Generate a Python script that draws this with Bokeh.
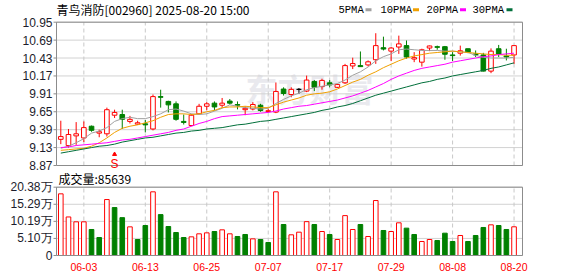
from bokeh.plotting import figure
from bokeh.models import ColumnDataSource, Range1d
from bokeh.embed import file_html
from bokeh.resources import INLINE
from bokeh.core.properties import value

# ---------------- data ----------------
dates = ["05-28", "05-29", "05-30", "06-03", "06-04", "06-05", "06-06", "06-09", "06-10", "06-11",
         "06-12", "06-13", "06-16", "06-17", "06-18", "06-19", "06-20", "06-23", "06-24", "06-25",
         "06-26", "06-27", "06-30", "07-01", "07-02", "07-03", "07-04", "07-07", "07-08", "07-09",
         "07-10", "07-11", "07-14", "07-15", "07-16", "07-17", "07-18", "07-21", "07-22", "07-23",
         "07-24", "07-25", "07-28", "07-29", "07-30", "07-31", "08-01", "08-04", "08-05", "08-06",
         "08-07", "08-08", "08-11", "08-12", "08-13", "08-14", "08-15", "08-18", "08-19", "08-20"]

open_ = [9.25, 9.16, 9.30, 9.27, 9.44, 9.34, 9.33, 9.60, 9.61, 9.51,
         9.47, 9.475, 9.40, 9.87, 9.80, 9.765, 9.51, 9.45, 9.62, 9.73,
         9.775, 9.745, 9.805, 9.755, 9.68, 9.69, 9.745, 9.655, 9.645, 9.98,
         9.90, 9.975, 9.95, 10.09, 10.015, 10.07, 10.005, 10.07, 10.315, 10.32,
         10.33, 10.405, 10.58, 10.53, 10.59, 10.61, 10.415, 10.37, 10.575, 10.595,
         10.595, 10.475, 10.50, 10.565, 10.49, 10.475, 10.24, 10.565, 10.46, 10.475]
high = [9.52, 9.40, 9.50, 9.51, 9.45, 9.39, 9.71, 9.68, 9.68, 9.59,
        9.52, 9.53, 9.90, 9.97, 9.81, 9.80, 9.61, 9.62, 9.765, 9.79,
        9.80, 9.85, 9.835, 9.80, 9.73, 9.79, 9.765, 9.69, 10.075, 10.005,
        10.005, 9.995, 10.175, 10.11, 10.13, 10.11, 10.055, 10.345, 10.435, 10.525,
        10.395, 10.79, 10.74, 10.59, 10.755, 10.685, 10.515, 10.565, 10.61, 10.61,
        10.605, 10.515, 10.61, 10.565, 10.54, 10.505, 10.57, 10.62, 10.565, 10.61]
low = [9.18, 9.13, 9.17, 9.21, 9.36, 9.28, 9.29, 9.56, 9.40, 9.48,
       9.46, 9.35, 9.38, 9.71, 9.64, 9.52, 9.465, 9.44, 9.61, 9.67,
       9.67, 9.71, 9.755, 9.685, 9.60, 9.67, 9.65, 9.64, 9.63, 9.885,
       9.86, 9.91, 9.935, 9.95, 9.97, 10.005, 9.995, 10.055, 10.27, 10.30,
       10.31, 10.345, 10.54, 10.385, 10.49, 10.42, 10.37, 10.305, 10.53, 10.55,
       10.405, 10.385, 10.465, 10.50, 10.445, 10.235, 10.21, 10.445, 10.395, 10.345]
close = [9.29, 9.32, 9.33, 9.42, 9.38, 9.36, 9.68, 9.64, 9.54, 9.54,
         9.49, 9.46, 9.87, 9.86, 9.75, 9.54, 9.495, 9.60, 9.73, 9.765,
         9.72, 9.775, 9.775, 9.745, 9.70, 9.755, 9.668, 9.665, 9.945, 9.915,
         9.975, 9.975, 10.11, 10.005, 10.105, 10.04, 10.045, 10.32, 10.35, 10.305,
         10.375, 10.61, 10.56, 10.575, 10.635, 10.445, 10.435, 10.55, 10.605, 10.585,
         10.485, 10.465, 10.535, 10.515, 10.475, 10.24, 10.53, 10.485, 10.445, 10.61]
volume = [184000, 115000, 100500, 100500, 77600, 53700, 167000, 143000, 113000, 85500,
          47700, 89500, 190000, 122000, 86500, 68600, 53700, 55700, 64700, 67600,
          71600, 76600, 64700, 56700, 62700, 49700, 47700, 38800, 190000, 92500,
          61700, 69600, 101000, 92500, 71600, 62700, 47700, 119000, 77600, 92500,
          56700, 164000, 74600, 71600, 97500, 81600, 62700, 41800, 47700, 44800,
          66600, 41800, 59700, 41800, 59700, 83600, 91500, 89500, 77600, 85639]
ma5 = [9.12, 9.15, 9.20, 9.26, 9.34, 9.37, 9.42, 9.51, 9.55, 9.57,
       9.55, 9.55, 9.58, 9.62, 9.68, 9.69, 9.66, 9.62, 9.61, 9.62,
       9.66, 9.70, 9.75, 9.73, 9.71, 9.70, 9.69, 9.70, 9.77, 9.83,
       9.88, 9.92, 9.97, 10.00, 10.02, 10.04, 10.06, 10.11, 10.18, 10.23,
       10.30, 10.39, 10.45, 10.49, 10.55, 10.56, 10.55, 10.54, 10.54, 10.54,
       10.53, 10.53, 10.52, 10.51, 10.47, 10.44, 10.43, 10.43, 10.43, 10.44]
ma10 = [9.09, 9.10, 9.11, 9.12, 9.15, 9.20, 9.27, 9.35, 9.41, 9.44,
        9.46, 9.49, 9.52, 9.57, 9.61, 9.62, 9.62, 9.61, 9.62, 9.65,
        9.67, 9.71, 9.72, 9.72, 9.73, 9.72, 9.71, 9.71, 9.75, 9.79,
        9.82, 9.85, 9.89, 9.91, 9.92, 9.94, 9.98, 10.03, 10.08, 10.12,
        10.18, 10.23, 10.29, 10.34, 10.39, 10.43, 10.46, 10.48, 10.50, 10.51,
        10.52, 10.53, 10.52, 10.51, 10.50, 10.49, 10.48, 10.48, 10.47, 10.47]
ma20 = [9.13, 9.14, 9.16, 9.17, 9.18, 9.19, 9.20, 9.22, 9.24, 9.25,
        9.27, 9.29, 9.31, 9.33, 9.35, 9.38, 9.40, 9.44, 9.48, 9.51,
        9.55, 9.58, 9.59, 9.60, 9.61, 9.62, 9.63, 9.64, 9.66, 9.69,
        9.71, 9.73, 9.74, 9.76, 9.78, 9.80, 9.82, 9.85, 9.88, 9.92,
        9.96, 10.01, 10.06, 10.12, 10.17, 10.21, 10.25, 10.28, 10.30, 10.32,
        10.34, 10.37, 10.39, 10.41, 10.43, 10.45, 10.46, 10.48, 10.49, 10.50]
ma30 = [9.05, 9.07, 9.09, 9.11, 9.13, 9.15, 9.16, 9.18, 9.21, 9.23,
        9.25, 9.27, 9.28, 9.30, 9.32, 9.34, 9.35, 9.37, 9.38, 9.40,
        9.41, 9.42, 9.44, 9.46, 9.47, 9.49, 9.51, 9.52, 9.54, 9.56,
        9.58, 9.60, 9.62, 9.64, 9.67, 9.69, 9.72, 9.74, 9.77, 9.81,
        9.85, 9.89, 9.92, 9.95, 9.98, 10.01, 10.04, 10.07, 10.09, 10.12,
        10.14, 10.17, 10.19, 10.21, 10.23, 10.25, 10.28, 10.30, 10.33, 10.36]

tick_dates = ["06-03", "06-13", "06-25", "07-07", "07-17", "07-29", "08-08", "08-20"]
price_ticks = [8.87, 9.13, 9.39, 9.65, 9.91, 10.17, 10.43, 10.69, 10.95]
vol_ticks = [0, 50950, 101900, 152850, 203800]
vol_tick_labels = ["0", "5.10万", "10.19万", "15.29万", "20.38万"]
title_text = "青鸟消防[002960] 2025-08-20 15:00"
vol_title = "成交量:85639"
signal_date = "06-09"
ma_names = ["5PMA", "10PMA", "20PMA", "30PMA"]

# ---------------- styling / geometry ----------------
RED = "#FF0000"
GREEN = "#008000"
MA_COLORS = ["#A0A0A0", "#F0A000", "#FF00FF", "#006F3A"]
FRAME = "#8C8C8C"
GRID = "#D2D2D2"
VGRID = "#C8C8C8"
LABEL_COLOR = "#1C1C2C"
W, H = 578, 276

n = len(dates)
idx = list(range(n))
tick_idx = [dates.index(d) for d in tick_dates]

X0, X1 = -0.56, 60.1            # panel box in index units (page px 56 .. 522)
PPX = 466 / (X1 - X0)


def px_x(px):
    return X0 + (px - 56) / PPX


P_LO, P_HI = price_ticks[0], price_ticks[-1]   # 10.95 at page y 21.7, 8.87 at 165
PPY = (165 - 21.7) / (P_HI - P_LO)


def px_p(py):
    return P_HI - (py - 21.7) / PPY


V_HI = vol_ticks[-1]                           # top tick at page y 186.7, 0 at 255
VPY = (255 - 186.7) / V_HI


def px_v(py):
    return (255 - py) / VPY


cand_col, cand_fill, vol_col, vol_fill = [], [], [], []
for i in idx:
    if close[i] > open_[i]:
        cand_col.append(RED); cand_fill.append("white")
    elif close[i] < open_[i]:
        cand_col.append(GREEN); cand_fill.append(GREEN)
    else:
        cand_col.append("black"); cand_fill.append("black")
    prev = close[i - 1] if i > 0 else open_[i]
    if close[i] >= prev:
        vol_col.append(RED); vol_fill.append("white")
    else:
        vol_col.append(GREEN); vol_fill.append(GREEN)

src = ColumnDataSource(dict(
    x=idx, open=open_, high=high, low=low, close=close,
    top=[max(o, c) for o, c in zip(open_, close)],
    bottom=[min(o, c) for o, c in zip(open_, close)],
    col=cand_col, fill=cand_fill,
    vol=volume, vcol=vol_col, vfill=vol_fill,
    ma5=ma5, ma10=ma10, ma20=ma20, ma30=ma30,
))

p = figure(width=W, height=H, x_range=Range1d(px_x(0), px_x(W)), y_range=Range1d(px_p(H), px_p(0)),
           x_axis_location=None, y_axis_location=None, toolbar_location=None,
           output_backend="svg", min_border=0)
p.extra_y_ranges = {"vol": Range1d(px_v(H), px_v(0))}
p.outline_line_color = None
p.border_fill_color = "white"
p.background_fill_color = "white"
p.grid.visible = False

# ================= price panel =================
# watermark
p.text(x=[px_x(309)], y=[px_p(87)], text=["东方财富"], text_font=value("Noto Sans CJK SC"),
       text_font_size="32px", text_font_style="bold", text_color="#E9E9EE",
       text_align="center", text_baseline="middle")

# horizontal grid + ticks + labels
npt = len(price_ticks)
p.segment(x0=[X0] * npt, x1=[X1] * npt, y0=price_ticks, y1=price_ticks, line_color=GRID, line_width=1)
p.segment(x0=[px_x(53)] * npt, x1=[X0] * npt, y0=price_ticks, y1=price_ticks, line_color=FRAME, line_width=1)
p.text(x=[px_x(52)] * npt, y=price_ticks, text=[f"{t:.2f}" for t in price_ticks],
       text_font=value("Liberation Sans"), text_font_size="12px", text_color=LABEL_COLOR,
       text_align="right", text_baseline="middle")

# vertical dashed date lines
ntk = len(tick_idx)
p.segment(x0=tick_idx, x1=tick_idx, y0=[P_LO] * ntk, y1=[P_HI] * ntk,
          line_color=VGRID, line_dash="4 3", line_width=1)

# candles
p.segment(x0="x", y0="high", x1="x", y1="low", color="col", line_width=1, source=src)
p.vbar(x="x", width=0.6, top="top", bottom="bottom", fill_color="fill", line_color="col",
       line_width=1, source=src)

# moving averages
for name, c in zip(["ma5", "ma10", "ma20", "ma30"], MA_COLORS):
    p.line(x="x", y=name, color=c, line_width=1, source=src)

# panel box
p.quad(left=[X0], right=[X1], bottom=[P_LO], top=[P_HI], fill_color=None, line_color=FRAME)

# signal marker
si = dates.index(signal_date)
p.scatter(x=[si], y=[px_p(153.8)], marker="triangle", size=4, color=RED)
p.text(x=[si], y=[px_p(163.5)], text=["S"], text_font=value("Liberation Sans"),
       text_font_size="12px", text_color=RED, text_align="center", text_baseline="alphabetic")

# title & legend row
p.text(x=[px_x(56)], y=[px_p(9)], text=[title_text], text_font=value("Noto Sans CJK SC"),
       text_font_size="12px", text_color="black", text_align="left", text_baseline="middle")
leg_text_px = [338, 380, 426, 472]
leg_sw_px = [368, 415.5, 462.5, 509]
p.text(x=[px_x(v) for v in leg_text_px], y=[px_p(9)] * 4, text=ma_names,
       text_font=value("Liberation Mono"), text_font_size="10.5px", text_color="black",
       text_align="left", text_baseline="middle")
p.rect(x=[px_x(v) for v in leg_sw_px], y=[px_p(9.3)] * 4, width=6, height=3,
       width_units="screen", height_units="screen", fill_color=MA_COLORS, line_color=None)

# ================= volume panel =================
nvt = len(vol_ticks)
p.segment(x0=[X0] * nvt, x1=[X1] * nvt, y0=vol_ticks, y1=vol_ticks, line_color=GRID,
          line_width=1, y_range_name="vol")
p.segment(x0=[px_x(53)] * nvt, x1=[X0] * nvt, y0=vol_ticks, y1=vol_ticks, line_color=FRAME,
          line_width=1, y_range_name="vol")
p.text(x=[px_x(52)] * nvt, y=vol_ticks, text=vol_tick_labels, text_font=value("Liberation Sans"),
       text_font_size="12px", text_color=LABEL_COLOR, text_align="right", text_baseline="middle",
       y_range_name="vol")
p.segment(x0=tick_idx, x1=tick_idx, y0=[0] * ntk, y1=[V_HI] * ntk,
          line_color=VGRID, line_dash="4 3", line_width=1, y_range_name="vol")
p.vbar(x="x", width=0.6, top="vol", bottom=0, fill_color="vfill", line_color="vcol",
       line_width=1, source=src, y_range_name="vol")
p.quad(left=[X0], right=[X1], bottom=[0], top=[V_HI], fill_color=None, line_color=FRAME,
       y_range_name="vol")

p.text(x=[px_x(58)], y=[px_v(177.5)], text=[vol_title], text_font=value("Noto Sans CJK SC"),
       text_font_size="12px", text_color="black", text_align="left", text_baseline="middle",
       y_range_name="vol")

# date labels
p.text(x=tick_idx, y=[px_v(266)] * ntk, text=[dates[i] for i in tick_idx],
       text_font=value("Liberation Sans"), text_font_size="10.5px", text_color=RED,
       text_align="center", text_baseline="middle", y_range_name="vol")

open("out.html", "w").write(file_html(p, INLINE))
